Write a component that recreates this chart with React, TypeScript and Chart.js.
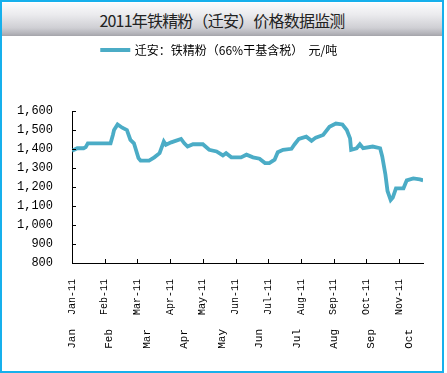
import React, { useEffect, useRef } from "react";
import { Chart, registerables } from "chart.js";

Chart.register(...registerables);

const titleText = "2011年铁精粉（迁安）价格数据监测";
const seriesName = "迁安：铁精粉（66%干基含税）  元/吨";

const dates = [
  "01-01", "01-06", "01-12", "01-14", "01-16", "02-06", "02-08", "02-09", "02-12", "02-16",
  "02-20", "02-23", "02-26", "03-02", "03-04", "03-12", "03-17", "03-22", "03-26", "03-28",
  "04-02", "04-11", "04-14", "04-17", "04-22", "05-01", "05-07", "05-14", "05-20", "05-23",
  "05-28", "06-06", "06-11", "06-17", "06-23", "06-28", "07-02", "07-07", "07-10", "07-15",
  "07-23", "07-26", "07-30", "08-06", "08-11", "08-15", "08-22", "08-28", "09-03", "09-09",
  "09-13", "09-16", "09-17", "09-22", "09-25", "09-28", "10-07", "10-14", "10-16", "10-19",
  "10-21", "10-24", "10-26", "10-29", "11-05", "11-08", "11-14", "11-20", "11-23",
];

const prices = [
  1390, 1404, 1404, 1410, 1430, 1430, 1474, 1500, 1529, 1512,
  1500, 1448, 1430, 1352, 1339, 1339, 1356, 1378, 1439, 1422,
  1435, 1453, 1430, 1413, 1425, 1425, 1396, 1387, 1366, 1378,
  1356, 1356, 1370, 1356, 1349, 1326, 1326, 1344, 1383, 1396,
  1401, 1425, 1453, 1465, 1443, 1460, 1474, 1517, 1534, 1529,
  1500, 1456, 1396, 1404, 1425, 1404, 1413, 1404, 1361, 1266,
  1179, 1131, 1144, 1193, 1193, 1235, 1245, 1240, 1235,
];

const monthTickLabels = [
  "Jan-11", "Feb-11", "Mar-11", "Apr-11", "May-11", "Jun-11",
  "Jul-11", "Aug-11", "Sep-11", "Oct-11", "Nov-11",
];
const secondRowLabels = ["Jan", "Feb", "Mar", "Apr", "May", "Jun", "Jul", "Aug", "Sep", "Oct"];

const daysInMonth = [31, 28, 31, 30, 31, 30, 31, 31, 30, 31, 30, 31];

function toMonthPos(d: string): number {
  const [m, day] = d.split("-").map(Number);
  return m - 1 + (day - 1) / daysInMonth[m - 1];
}

const LINE_COLOR = "#4bacc6";

const innerTicks = {
  id: "innerTicks",
  afterDatasetsDraw(chart: any) {
    const { ctx, chartArea, scales } = chart;
    ctx.save();
    ctx.strokeStyle = "#000";
    ctx.lineWidth = 1;
    scales.y.ticks.forEach((t: any) => {
      const y = Math.round(scales.y.getPixelForValue(t.value)) + 0.5;
      ctx.beginPath();
      ctx.moveTo(chartArea.left, y);
      ctx.lineTo(chartArea.left + 4, y);
      ctx.stroke();
    });
    scales.x.ticks.forEach((t: any) => {
      const x = Math.round(scales.x.getPixelForValue(t.value)) + 0.5;
      ctx.beginPath();
      ctx.moveTo(x, chartArea.bottom);
      ctx.lineTo(x, chartArea.bottom - 4);
      ctx.stroke();
    });
    ctx.restore();
  },
};

export default function App() {
  const ref = useRef<HTMLCanvasElement | null>(null);

  useEffect(() => {
    document.body.style.margin = "0";
    const canvas = ref.current;
    if (!canvas) return;
    const chart = new Chart(canvas, {
      type: "line",
      data: {
        datasets: [
          {
            label: seriesName,
            data: dates.map((d, i) => ({ x: toMonthPos(d), y: prices[i] })),
            borderColor: LINE_COLOR,
            backgroundColor: LINE_COLOR,
            borderWidth: 3.8,
            pointRadius: 0,
            tension: 0,
            fill: false,
          },
        ],
      },
      options: {
        responsive: false,
        animation: false,
        devicePixelRatio: 1,
        layout: { padding: { top: 38, left: 16, right: 24, bottom: 22 } },
        plugins: {
          tooltip: { enabled: false },
          legend: {
            display: true,
            position: "top",
            labels: {
              boxWidth: 27,
              boxHeight: 1,
              padding: 6,
              color: "#000",
              font: { family: "'Noto Sans CJK SC'", size: 12 },
              generateLabels: () => [
                {
                  text: seriesName,
                  fillStyle: LINE_COLOR,
                  strokeStyle: LINE_COLOR,
                  lineWidth: 3,
                  datasetIndex: 0,
                  hidden: false,
                },
              ],
            },
          },
          title: {
            display: true,
            text: " ",
            weight: 500,
            position: "top",
            font: { size: 10, lineHeight: 1 },
            padding: { top: 0, bottom: 35 },
          },
        },
        scales: {
          x: {
            type: "linear",
            position: "bottom",
            weight: 0,
            min: 0,
            max: 10.73,
            grid: { display: false },
            border: { display: true, color: "#000", width: 1 },
            afterBuildTicks: (s: any) => {
              s.ticks = monthTickLabels.map((_, i) => ({ value: i }));
            },
            afterFit: (s: any) => {
              s.height = 58;
            },
            ticks: {
              autoSkip: false,
              minRotation: 90,
              maxRotation: 90,
              padding: 8,
              color: "#000",
              font: { family: "'Liberation Mono'", size: 10 },
              callback: (v: any) => monthTickLabels[Math.round(Number(v))] ?? "",
            },
          },
          x2: {
            type: "linear",
            position: "bottom",
            weight: 1,
            min: 0,
            max: 9.375,
            grid: { display: false },
            border: { display: false },
            afterBuildTicks: (s: any) => {
              s.ticks = secondRowLabels.map((_, i) => ({ value: i }));
            },
            afterFit: (s: any) => {
              s.height = 30;
            },
            ticks: {
              autoSkip: false,
              minRotation: 90,
              maxRotation: 90,
              padding: 0,
              color: "#000",
              font: { family: "'Liberation Mono'", size: 11 },
              callback: (v: any) => secondRowLabels[Math.round(Number(v))] ?? "",
            },
          },
          y: {
            type: "linear",
            min: 800,
            max: 1600,
            grid: { display: false },
            border: { display: true, color: "#000", width: 1 },
            afterFit: (s: any) => {
              s.width = 56;
            },
            ticks: {
              stepSize: 100,
              padding: 11,
              color: "#000",
              font: { family: "'Liberation Mono'", size: 12 },
              callback: (v: any) => Number(v).toLocaleString("en-US"),
            },
          },
        },
      },
      plugins: [innerTicks],
    } as any);
    return () => chart.destroy();
  }, []);

  return (
    <div
      style={{
        position: "fixed",
        left: 0,
        top: 0,
        width: 447,
        height: 373,
        background: "#fff",
        overflow: "hidden",
      }}
    >
      <div
        style={{
          position: "absolute",
          left: 0,
          top: 0,
          width: 444,
          height: 373,
          boxSizing: "border-box",
          border: "2px solid #16b0ec",
        }}
      />
      <div
        style={{
          position: "absolute",
          left: 2,
          top: 3,
          width: 440,
          height: 33,
          background:
            "linear-gradient(to bottom, #fbfbfc 0%, #ebebee 35%, #cfcfd4 75%, #b4b4ba 92%, #a4a4aa 100%)",
          display: "flex",
          alignItems: "center",
          justifyContent: "center",
          fontFamily: "'Noto Sans CJK SC'",
          fontSize: 16,
          color: "#222",
          letterSpacing: -0.8,
        }}
      >
        {titleText}
      </div>
      <canvas
        ref={ref}
        width={447}
        height={373}
        style={{ position: "absolute", left: 0, top: 0, width: 447, height: 373 }}
      />
    </div>
  );
}
